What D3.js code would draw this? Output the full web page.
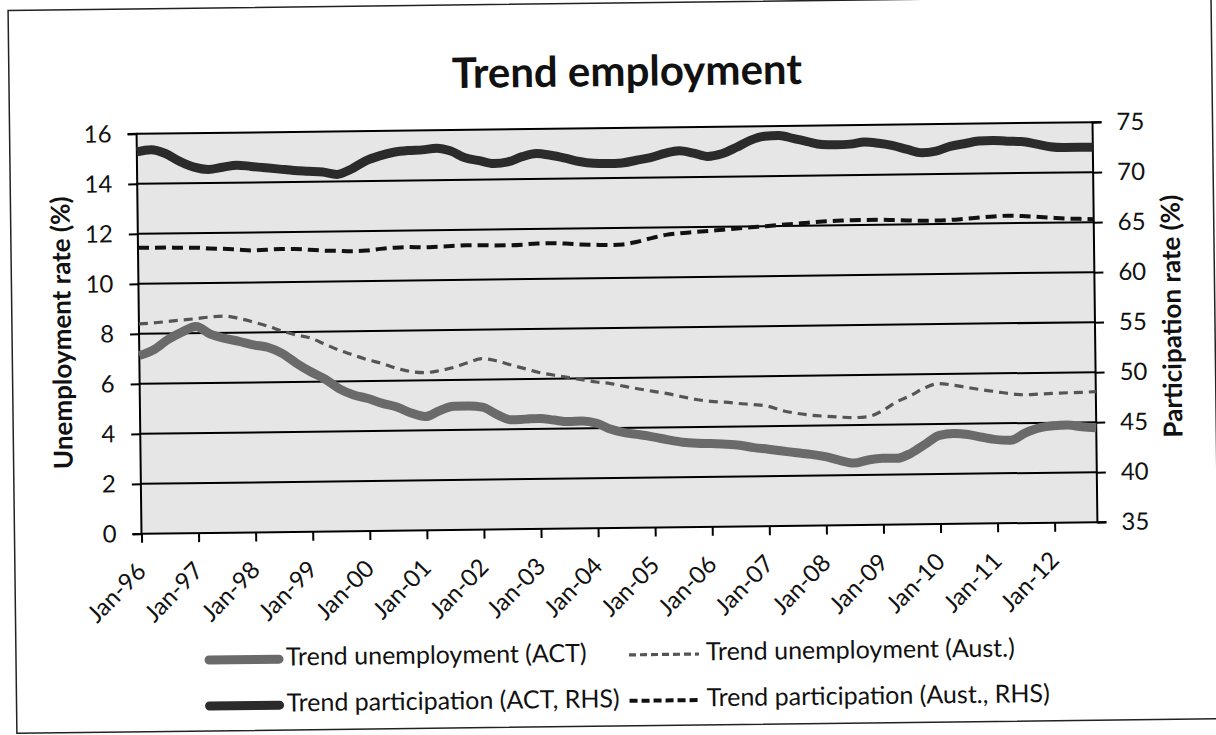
<!DOCTYPE html>
<html>
<head>
<meta charset="utf-8">
<script src="https://cdn.jsdelivr.net/npm/d3@7"></script>
<style>
  html, body { margin: 0; padding: 0; background: #fff; }
  svg { display: block; }
  text { font-family: Lato, "Open Sans", sans-serif; fill: #111; }
</style>
</head>
<body>
<svg id="chart" width="1216" height="735"></svg>
<script>
// ---- data (quarterly, Jan-96 .. Oct-12) ----
const startYear = 1996;
const actUnemp = [
  7.13, 7.35, 7.75, 8.05,  8.27, 7.95, 7.78, 7.65,  7.5, 7.4, 7.15, 6.75,
  6.4, 6.1, 5.7, 5.45,  5.3, 5.1, 4.95, 4.7,  4.55, 4.78, 4.95, 4.95,
  4.9, 4.6, 4.38, 4.4,  4.42, 4.35, 4.28, 4.3,  4.2, 3.95, 3.8, 3.72,
  3.62, 3.5, 3.4, 3.35,  3.33, 3.3, 3.25, 3.15,  3.08, 3.0, 2.92, 2.85,
  2.75, 2.6, 2.48, 2.6,  2.66, 2.65, 2.85, 3.2,  3.55, 3.62, 3.57, 3.45,
  3.35, 3.32, 3.6, 3.8,  3.88, 3.9, 3.82, 3.78
];
const ausUnemp = [
  8.4, 8.43, 8.48, 8.53,  8.58, 8.64, 8.67, 8.57,  8.42, 8.25, 8.05, 7.88,
  7.75, 7.5, 7.25, 7.05,  6.85, 6.7, 6.5, 6.36,  6.31, 6.38, 6.5, 6.68,
  6.84, 6.75, 6.58, 6.42,  6.26, 6.15, 6.05, 5.95,  5.85, 5.78, 5.66, 5.55,
  5.45, 5.35, 5.22, 5.1,  5.02, 4.98, 4.92, 4.87,  4.8, 4.62, 4.5, 4.42,
  4.37, 4.33, 4.3, 4.33,  4.55, 4.9, 5.15, 5.45,  5.62, 5.55, 5.45, 5.35,
  5.27, 5.18, 5.13, 5.15,  5.17, 5.19, 5.2, 5.22
];
const actPart = [
  73.2, 73.4, 73.0, 72.2,  71.6, 71.35, 71.55, 71.75,  71.6, 71.45, 71.3, 71.15,
  71.05, 70.95, 70.7, 71.2,  72.0, 72.5, 72.85, 73.0,  73.05, 73.2, 72.9, 72.2,
  71.9, 71.6, 71.75, 72.25,  72.55, 72.35, 72.05, 71.7,  71.5, 71.45, 71.5, 71.75,
  72.0, 72.4, 72.65, 72.4,  72.05, 72.3, 72.9, 73.6,  74.0, 74.05, 73.75, 73.4,
  73.1, 73.05, 73.1, 73.3,  73.15, 72.9, 72.5, 72.15,  72.3, 72.75, 73.0, 73.25,
  73.3, 73.2, 73.15, 72.9,  72.6, 72.5, 72.5, 72.5
];
const ausPart = [
  63.6, 63.6, 63.6, 63.55,  63.55, 63.45, 63.4, 63.3,  63.2, 63.25, 63.3, 63.3,
  63.2, 63.1, 63.05, 63.0,  63.05, 63.2, 63.3, 63.35,  63.3, 63.35, 63.4, 63.45,
  63.45, 63.4, 63.4, 63.45,  63.55, 63.55, 63.5, 63.4,  63.35, 63.3, 63.35, 63.6,
  63.95, 64.25, 64.4, 64.5,  64.6, 64.7, 64.8, 64.9,  65.0, 65.1, 65.2, 65.3,
  65.4, 65.45, 65.5, 65.5,  65.5, 65.45, 65.4, 65.35,  65.35, 65.4, 65.5, 65.6,
  65.7, 65.75, 65.7, 65.6,  65.5, 65.4, 65.35, 65.3
];
const tickLabels = ["Jan-96","Jan-97","Jan-98","Jan-99","Jan-00","Jan-01","Jan-02","Jan-03",
  "Jan-04","Jan-05","Jan-06","Jan-07","Jan-08","Jan-09","Jan-10","Jan-11","Jan-12"];
const leftTicks = [0, 2, 4, 6, 8, 10, 12, 14, 16];
const rightTicks = [35, 40, 45, 50, 55, 60, 65, 70, 75];
const legendNames = ["Trend unemployment (ACT)", "Trend unemployment (Aust.)",
  "Trend participation (ACT, RHS)", "Trend participation (Aust., RHS)"];

// ---- layout ----
const L = 139, R = 1095, T = 128, B = 528;
const svg = d3.select("#chart");
const g = svg.append("g").attr("transform", "rotate(-0.7, 617, 328)");

// outer border
g.append("rect").attr("x", 12).attr("y", 3).attr("width", 1203).attr("height", 723)
  .attr("fill", "none").attr("stroke", "#222").attr("stroke-width", 1.5);

const t = i => startYear + i / 4;
const x = d3.scaleLinear().domain([1996, 2012.75]).range([L, R]);
const yL = d3.scaleLinear().domain([0, 16]).range([B, T]);
const yR = d3.scaleLinear().domain([35, 75]).range([B, T]);

// plot background
g.append("rect").attr("x", L).attr("y", T).attr("width", R - L).attr("height", B - T)
  .attr("fill", "#e6e6e6");

// gridlines
g.append("g").selectAll("line").data(leftTicks.filter(d => d > 0)).join("line")
  .attr("x1", L).attr("x2", R).attr("y1", d => yL(d)).attr("y2", d => yL(d))
  .attr("stroke", "#000").attr("stroke-width", 2);

// axes
const axL = d3.axisLeft(yL).tickValues(leftTicks).tickSize(9).tickPadding(16);
const axR = d3.axisRight(yR).tickValues(rightTicks).tickSize(9).tickPadding(15);
const axB = d3.axisBottom(x).tickValues(tickLabels.map((d, i) => 1996 + i))
  .tickFormat((d, i) => tickLabels[i]).tickSize(9);

function styleAxis(sel) {
  sel.select(".domain").attr("stroke", "#000").attr("stroke-width", 2);
  sel.selectAll(".tick line").attr("stroke", "#000").attr("stroke-width", 2);
  sel.selectAll("text").style("font-family", "Lato, sans-serif").attr("fill", "#111");
}
const gL = g.append("g").attr("transform", `translate(${L},0)`).call(axL).call(styleAxis);
gL.selectAll("text").style("font-size", "24px");
gL.select(".domain").attr("d", `M-9,${T}H0V${B}H-9`);
const gR = g.append("g").attr("transform", `translate(${R},0)`).call(axR).call(styleAxis);
gR.selectAll("text").style("font-size", "24px");
gR.select(".domain").attr("d", `M9,${T}H0V${B}H9`);
const gB = g.append("g").attr("transform", `translate(0,${B})`).call(axB).call(styleAxis);
gB.select(".domain").attr("d", `M${L},0H${R}`);
gB.selectAll("text").style("font-size", "24px")
  .attr("text-anchor", "end").attr("dy", "0")
  .attr("transform", "translate(5,39) rotate(-45)")
  .attr("x", 0).attr("y", 0);

// lines
const curve = d3.curveMonotoneX;
const lineL = d3.line().x((d, i) => x(t(i))).y(d => yL(d)).curve(curve);
const lineR = d3.line().x((d, i) => x(t(i))).y(d => yR(d)).curve(curve);

g.append("path").datum(ausPart).attr("d", lineR).attr("fill", "none")
  .attr("stroke", "#111").attr("stroke-width", 4).attr("stroke-dasharray", "11,6");
g.append("path").datum(ausUnemp).attr("d", lineL).attr("fill", "none")
  .attr("stroke", "#555").attr("stroke-width", 3.2).attr("stroke-dasharray", "9,6");
g.append("path").datum(actPart).attr("d", lineR).attr("fill", "none")
  .attr("stroke", "#2b2b2b").attr("stroke-width", 9).attr("stroke-linejoin", "round");
g.append("path").datum(actUnemp).attr("d", lineL).attr("fill", "none")
  .attr("stroke", "#6a6a6a").attr("stroke-width", 9).attr("stroke-linejoin", "round");

// title
g.append("text").attr("x", 630).attr("y", 86).attr("text-anchor", "middle")
  .style("font-size", "42px").style("font-weight", "bold").text("Trend employment");

// axis titles
g.append("text").attr("transform", "translate(71,326) rotate(-90)")
  .attr("text-anchor", "middle")
  .style("font-size", "26px").style("font-weight", "bold").text("Unemployment rate (%)");
g.append("text").attr("transform", "translate(1181,323) rotate(-90)")
  .attr("text-anchor", "middle")
  .style("font-size", "26px").style("font-weight", "bold").text("Participation rate (%)");

// legend
const legendItems = [
  { name: legendNames[0], col: 0, row: 0, stroke: "#6a6a6a", w: 9, dash: null },
  { name: legendNames[1], col: 1, row: 0, stroke: "#555", w: 3.2, dash: "7,4" },
  { name: legendNames[2], col: 0, row: 1, stroke: "#2b2b2b", w: 9, dash: null },
  { name: legendNames[3], col: 1, row: 1, stroke: "#111", w: 4, dash: "8,4" }
];
const colX = [201, 621], rowY = [655, 701];
const lg = g.append("g");
legendItems.forEach(it => {
  const x0 = colX[it.col], y0 = rowY[it.row];
  const swW = 78;
  lg.append("line").attr("x1", x0 + 4).attr("x2", x0 + swW - 4).attr("y1", y0).attr("y2", y0)
    .attr("stroke", it.stroke).attr("stroke-width", it.w)
    .attr("stroke-linecap", it.dash ? "butt" : "round")
    .attr("stroke-dasharray", it.dash);
  lg.append("text").attr("x", x0 + swW + 3).attr("y", y0).attr("dominant-baseline", "middle")
    .style("font-size", "25px").text(it.name);
});
</script>
</body>
</html>
